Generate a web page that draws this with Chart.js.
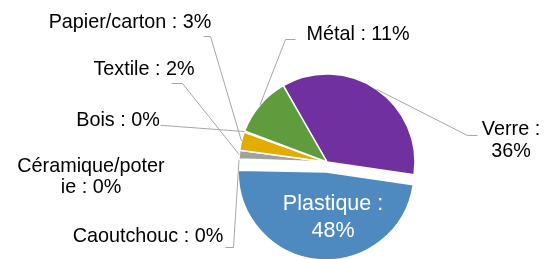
<!DOCTYPE html>
<html>
<head>
<meta charset="utf-8">
<script src="https://cdn.jsdelivr.net/npm/chart.js@4"></script>
<style>
  html, body { margin: 0; padding: 0; background: #ffffff; }
  #wrap { width: 552px; height: 259px; position: relative; }
</style>
</head>
<body>
<div id="wrap"><canvas id="c" width="552" height="259"></canvas></div>
<script>
// ---- data (clockwise order of slices) ----
const categories = ['Verre', 'Plastique', 'Caoutchouc', 'Céramique/poterie', 'Textile', 'Papier/carton', 'Bois', 'Métal'];
const values     = [35.6, 48.0, 0.1, 0.1, 1.6, 3.4, 0.2, 11.0];
const colors     = ['#7030A0', '#4E8AC0', '#4E8AC0', '#A0A0A0', '#A0A0A0', '#E2AC00', '#E2AC00', '#5E9C3E'];

// ---- label layout (positions only) ----
const labelLayout = {
  'Verre':             { x: 511, y: 135, maxW: 62,  lh: 22, line: [[477,135],[467,135]] },
  'Plastique':         { x: 333, y: 210, maxW: 115, lh: 27, color: '#ffffff', size: 21.5 },
  'Caoutchouc':        { x: 148, y: 242, maxW: 300, lh: 22, line: [[225,247],[233,247]] },
  'Céramique/poterie': { x: 91,  y: 172, maxW: 150, lh: 21 },
  'Textile':           { x: 144, y: 75,  maxW: 300, lh: 22, line: [[171,83],[182,83]] },
  'Papier/carton':     { x: 130, y: 28,  maxW: 300, lh: 22, line: [[203,36],[210,36]] },
  'Bois':              { x: 118, y: 126, maxW: 300, lh: 22, line: [[160,125],[163,125]] },
  'Métal':             { x: 358, y: 40,  maxW: 300, lh: 22, line: [[295,39],[285,39]] }
};

const explodeIndex = 1;   // Plastique is pulled out
const explodeDist = 10;

function wrapText(ctx, text, maxW) {
  const words = text.split(' ');
  const lines = [];
  let cur = '';
  for (const w of words) {
    const test = cur ? cur + ' ' + w : w;
    if (ctx.measureText(test).width <= maxW) { cur = test; continue; }
    if (cur) { lines.push(cur); cur = ''; }
    let piece = '';
    for (const ch of w) {
      if (piece && ctx.measureText(piece + ch).width > maxW) { lines.push(piece); piece = ch; }
      else piece += ch;
    }
    cur = piece;
  }
  if (cur) lines.push(cur);
  return lines;
}

const explodePlugin = {
  id: 'explode',
  afterDatasetsUpdate(chart) {
    const arc = chart.getDatasetMeta(0).data[explodeIndex];
    const mid = (arc.startAngle + arc.endAngle) / 2;
    arc.x += Math.cos(mid) * explodeDist;
    arc.y += Math.sin(mid) * explodeDist;
  }
};

const labelPlugin = {
  id: 'pieLabels',
  afterDatasetsDraw(chart) {
    const ctx = chart.ctx;
    const arcs = chart.getDatasetMeta(0).data;
    ctx.save();
    // leader lines
    ctx.strokeStyle = '#A6A6A6';
    ctx.lineWidth = 1;
    categories.forEach((cat, i) => {
      const L = labelLayout[cat];
      if (!L.line) return;
      const a = arcs[i];
      const mid = (a.startAngle + a.endAngle) / 2;
      const px = a.x + Math.cos(mid) * a.outerRadius;
      const py = a.y + Math.sin(mid) * a.outerRadius;
      ctx.beginPath();
      ctx.moveTo(L.line[0][0] + 0.5, L.line[0][1] + 0.5);
      for (let k = 1; k < L.line.length; k++) ctx.lineTo(L.line[k][0] + 0.5, L.line[k][1] + 0.5);
      ctx.lineTo(px, py);
      ctx.stroke();
    });
    // texts
    ctx.textAlign = 'center';
    ctx.textBaseline = 'alphabetic';
    categories.forEach((cat, i) => {
      const L = labelLayout[cat];
      const size = L.size || 19.8;
      ctx.font = size + 'px "Liberation Sans", Arial, sans-serif';
      ctx.fillStyle = L.color || '#000000';
      const txt = cat + ' : ' + Math.round(values[i]) + '%';
      const lines = wrapText(ctx, txt, L.maxW);
      lines.forEach((ln, k) => ctx.fillText(ln, L.x, L.y + k * L.lh));
    });
    ctx.restore();
  }
};

new Chart(document.getElementById('c'), {
  type: 'pie',
  data: {
    labels: categories,
    datasets: [{
      data: values,
      backgroundColor: colors,
      borderColor: '#ffffff',
      borderWidth: 1.5
    }]
  },
  options: {
    responsive: false,
    animation: false,
    rotation: -29.8,
    radius: 88,
    layout: { padding: { left: 102, right: 0, top: 65, bottom: 0 } },
    plugins: { legend: { display: false }, tooltip: { enabled: false } },
    events: []
  },
  plugins: [explodePlugin, labelPlugin]
});
</script>
</body>
</html>
